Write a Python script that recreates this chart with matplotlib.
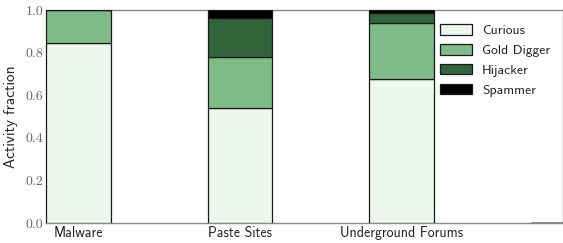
import matplotlib
matplotlib.use("Agg")
import matplotlib.pyplot as plt
import numpy as np

categories = ["Malware", "Paste Sites", "Underground Forums", ""]
series_names = ["Curious", "Gold Digger", "Hijacker", "Spammer"]
curious = [0.844, 0.538, 0.675, 0.0]
gold_digger = [0.156, 0.240, 0.262, 0.0]
hijacker = [0.0, 0.184, 0.047, 0.0]
spammer = [0.0, 0.038, 0.016, 0.0]
yticks = [0.0, 0.2, 0.4, 0.6, 0.8, 1.0]

colors = ["#edf7ed", "#7fbc8a", "#32633a", "#000000"]

plt.rcParams['axes.unicode_minus'] = False
fig = plt.figure(figsize=(5.63, 2.43), dpi=100)
ax = fig.add_axes([46/563, 20/243, 517/563, 213/243])

x = np.arange(len(categories))
width = 0.4
bottom = np.zeros(len(categories))
for name, vals, c in zip(series_names, [curious, gold_digger, hijacker, spammer], colors):
    vals = np.array(vals)
    ax.bar(x, vals, width, bottom=bottom, color=c, edgecolor="#1a1a1a",
           linewidth=0.9, label=name, align="center", zorder=3)
    bottom += vals

ax.set_xlim(-0.2, 2.99)
ax.set_ylim(0, 1.0)
ax.set_xticks(x)
ax.set_xticklabels(categories, fontfamily="cmss10", fontsize=10, color="#222222")
ax.set_yticks(yticks)
ax.set_yticklabels([f"{v:.1f}" for v in yticks], fontfamily="cmr10", fontsize=10, color="#666666")
ax.tick_params(length=0, pad=2)
ax.set_ylabel("Activity fraction", fontfamily="cmss10", fontsize=11, labelpad=5, color="#222222")
for s in ax.spines.values():
    s.set_color("#888888")
    s.set_linewidth(1.0)

leg = ax.legend(loc="upper left", bbox_to_anchor=(0.738, 0.99), frameon=False,
                prop={"family": "cmss10", "size": 9.8}, handlelength=2.4,
                handleheight=0.8, labelspacing=0.5, handletextpad=0.7)
for t in leg.get_texts():
    t.set_color("#222222")

fig.savefig("out.png", dpi=100)
